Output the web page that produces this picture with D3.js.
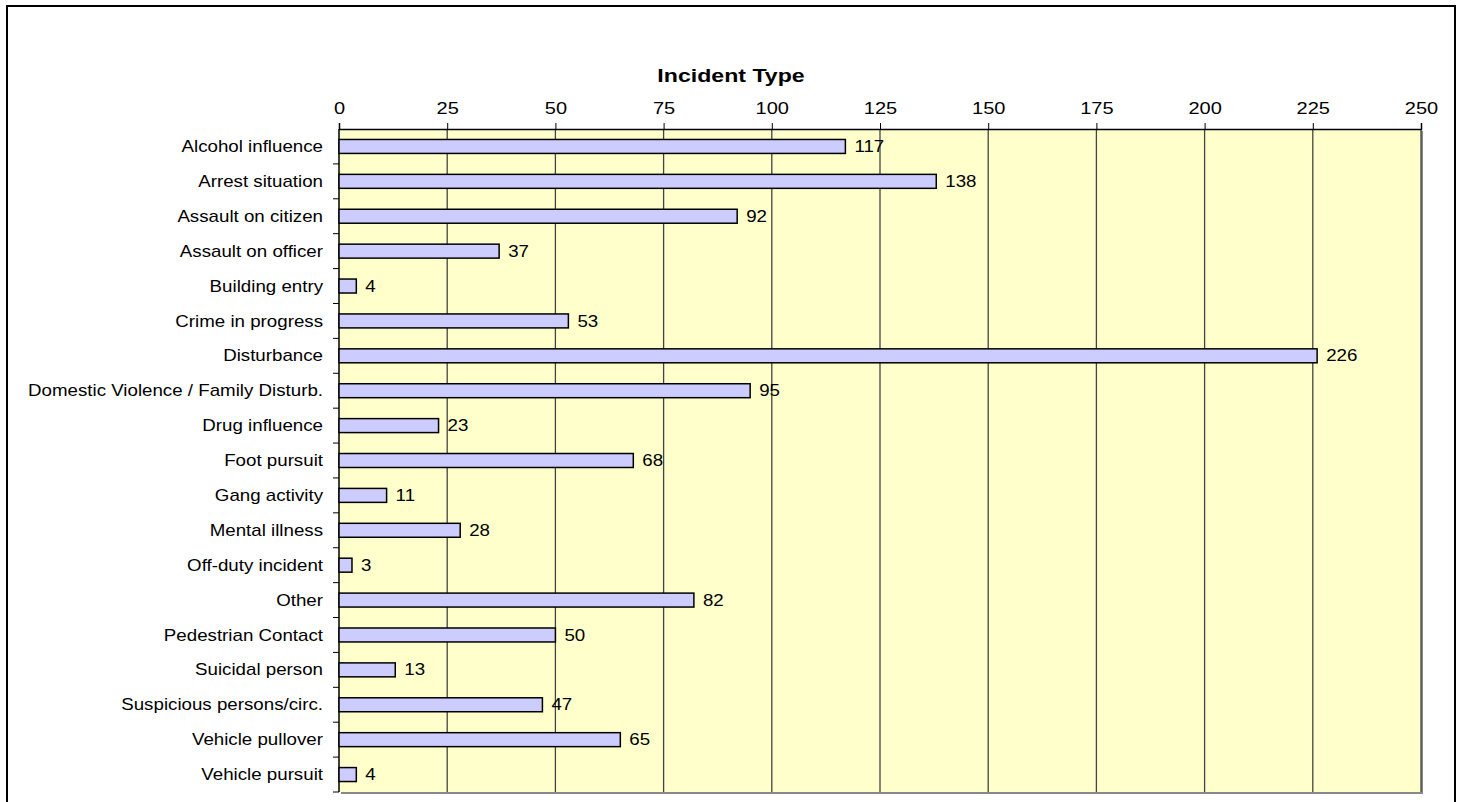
<!DOCTYPE html>
<html>
<head>
<meta charset="utf-8">
<script src="https://cdn.jsdelivr.net/npm/d3@7"></script>
<style>
  body { margin: 0; background: #fff; }
  svg { display: block; font-family: "Liberation Sans", Arial, sans-serif; }
</style>
</head>
<body>
<svg id="chart" width="1462" height="802"></svg>
<script>
// datos
const categories = [
  "Alcohol influence", "Arrest situation", "Assault on citizen", "Assault on officer",
  "Building entry", "Crime in progress", "Disturbance", "Domestic Violence / Family Disturb.",
  "Drug influence", "Foot pursuit", "Gang activity", "Mental illness", "Off-duty incident",
  "Other", "Pedestrian Contact", "Suicidal person", "Suspicious persons/circ.",
  "Vehicle pullover", "Vehicle pursuit"
];
const counts = [117, 138, 92, 37, 4, 53, 226, 95, 23, 68, 11, 28, 3, 82, 50, 13, 47, 65, 4];
const xTicks = [0, 25, 50, 75, 100, 125, 150, 175, 200, 225, 250];
const title = "Incident Type";

const svg = d3.select("#chart");
const stretch = 1.25;     // el texto original aparece ensanchado
const labelStretch = 1.17;

// marco exterior
svg.append("rect")
  .attr("x", 7).attr("y", 6)
  .attr("width", 1448).attr("height", 810)
  .attr("fill", "none").attr("stroke", "#000").attr("stroke-width", 2);

const plot = { left: 339, right: 1421, top: 129, bottom: 792 };

const x = d3.scaleLinear().domain([0, 250]).range([plot.left, plot.right]);
const y = d3.scaleBand().domain(categories).range([plot.top, plot.bottom]).padding(0);

// sombra del area de trazado
svg.append("rect")
  .attr("x", plot.left + 2).attr("y", plot.top + 2)
  .attr("width", plot.right - plot.left).attr("height", plot.bottom - plot.top)
  .attr("fill", "#888");

svg.append("rect")
  .attr("x", plot.left).attr("y", plot.top)
  .attr("width", plot.right - plot.left).attr("height", plot.bottom - plot.top)
  .attr("fill", "#FFFFCC");

// lineas de cuadricula
svg.append("g")
  .selectAll("line")
  .data(xTicks.slice(1))
  .enter().append("line")
  .attr("x1", d => x(d)).attr("x2", d => x(d))
  .attr("y1", plot.top).attr("y2", plot.bottom)
  .attr("stroke", "#444").attr("stroke-width", 1.3);

// eje superior
const xAxis = svg.append("g")
  .attr("transform", `translate(0,${plot.top})`)
  .call(d3.axisTop(x).tickValues(xTicks).tickSize(6).tickPadding(9));
xAxis.select(".domain").attr("stroke", "#000").attr("stroke-width", 1.5);
xAxis.selectAll(".tick line").attr("stroke", "#000");
xAxis.selectAll(".tick text")
  .attr("font-size", 16)
  .attr("fill", "#000")
  .attr("font-family", "Liberation Sans, Arial, sans-serif")
  .attr("transform", `scale(${stretch},1)`);

// eje izquierdo
svg.append("line")
  .attr("x1", plot.left).attr("x2", plot.left)
  .attr("y1", plot.top).attr("y2", plot.bottom)
  .attr("stroke", "#000").attr("stroke-width", 1.5);

svg.append("g")
  .selectAll("line")
  .data(categories.slice(1).concat(["__end"]))
  .enter().append("line")
  .attr("x1", plot.left - 6).attr("x2", plot.left)
  .attr("y1", (d, i) => plot.top + y.step() * (i + 1))
  .attr("y2", (d, i) => plot.top + y.step() * (i + 1))
  .attr("stroke", "#000");

svg.append("g")
  .selectAll("text")
  .data(categories)
  .enter().append("text")
  .attr("transform", d => `translate(${plot.left - 16},${y(d) + y.bandwidth() / 2}) scale(${labelStretch},1)`)
  .attr("text-anchor", "end")
  .attr("dy", "0.35em")
  .attr("font-size", 16)
  .text(d => d);

// barras
const barH = y.bandwidth() * 0.4;
svg.append("g")
  .selectAll("rect")
  .data(categories)
  .enter().append("rect")
  .attr("x", x(0))
  .attr("y", d => y(d) + (y.bandwidth() - barH) / 2)
  .attr("width", (d, i) => x(counts[i]) - x(0))
  .attr("height", barH)
  .attr("fill", "#CCCCFF")
  .attr("stroke", "#000")
  .attr("stroke-width", 1.5);

// etiquetas de valores
svg.append("g")
  .selectAll("text")
  .data(categories)
  .enter().append("text")
  .attr("transform", (d, i) => `translate(${x(counts[i]) + 9},${y(d) + y.bandwidth() / 2}) scale(${labelStretch},1)`)
  .attr("dy", "0.35em")
  .attr("font-size", 16)
  .text((d, i) => counts[i]);

// titulo
svg.append("text")
  .attr("transform", `translate(731,82) scale(${stretch},1)`)
  .attr("text-anchor", "middle")
  .attr("font-size", 18.5)
  .attr("font-weight", "bold")
  .text(title);
</script>
</body>
</html>
